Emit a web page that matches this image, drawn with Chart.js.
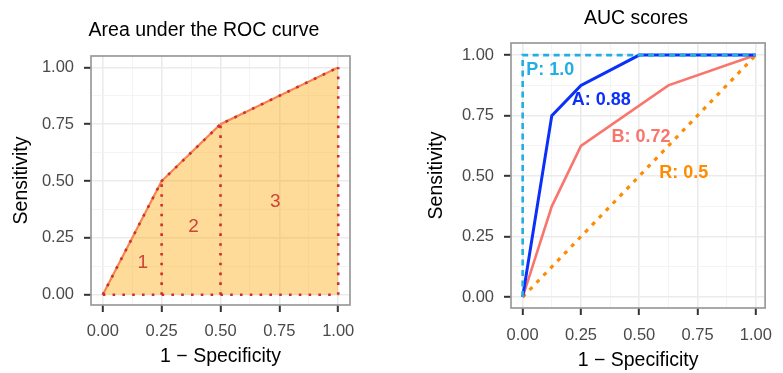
<!DOCTYPE html>
<html>
<head>
<meta charset="utf-8">
<script src="https://cdn.jsdelivr.net/npm/chart.js@4/dist/chart.umd.min.js"></script>
<style>
  html, body { margin: 0; padding: 0; background: #ffffff; }
  #wrap { position: relative; width: 783px; height: 373px; overflow: hidden; }
  canvas { position: absolute; top: 0; }
  #c1 { left: 0px; }
  #c2 { left: 410px; }
</style>
</head>
<body>
<div id="wrap">
  <canvas id="c1" width="400" height="373"></canvas>
  <canvas id="c2" width="373" height="373"></canvas>
</div>
<script>
// ---------- data (left panel) ----------
const leftTitle = 'Area under the ROC curve';
const rocFpr = [0, 0.25, 0.5, 1];
const rocTpr = [0, 0.5, 0.75, 1];
const regionNames = ['1', '2', '3'];
const regionLabelX = [0.17, 0.386, 0.733];
const regionLabelY = [0.14, 0.30, 0.41];

// ---------- data (right panel) ----------
const rightTitle = 'AUC scores';
const perfFpr = [0, 0, 1];
const perfTpr = [0, 1, 1];
const aFpr = [0, 0.125, 0.25, 0.5, 1];
const aTpr = [0, 0.75, 0.875, 1, 1];
const bFpr = [0, 0.125, 0.25, 0.625, 1];
const bTpr = [0, 0.375, 0.625, 0.875, 1];
const rFpr = [0, 1];
const rTpr = [0, 1];
const curveNames = ['P: 1.0', 'A: 0.88', 'B: 0.72', 'R: 0.5'];
const curveLabelX = [0.118, 0.337, 0.508, 0.691];
const curveLabelY = [0.938, 0.814, 0.661, 0.512];

// ---------- axis ----------
const tickValues = [0, 0.125, 0.25, 0.375, 0.5, 0.625, 0.75, 0.875, 1];
const xTitle = '1 \u2212 Specificity';
const yTitle = 'Sensitivity';

const FONT = "'Liberation Sans', Arial, Helvetica, sans-serif";
const pts = (xs, ys) => xs.map((x, i) => ({x: x, y: ys[i]}));
const isMajor = v => Math.abs(v * 4 - Math.round(v * 4)) < 1e-6;

function makeScale(horizontal, min, max, fitSize, titlePad, tickPad) {
  return {
    type: 'linear',
    min: min, max: max,
    afterBuildTicks: s => { s.ticks = tickValues.map(v => ({value: v})); },
    afterFit: s => { if (horizontal) s.height = fitSize; else s.width = fitSize; },
    border: {display: false},
    grid: {
      color: c => (c.tick && isMajor(c.tick.value)) ? '#EBEBEB' : '#F3F3F3',
      lineWidth: c => (c.tick && isMajor(c.tick.value)) ? 1.6 : 0.9,
      tickColor: c => (c.tick && isMajor(c.tick.value)) ? '#333333' : 'rgba(0,0,0,0)',
      tickLength: 7,
      tickWidth: 2,
      drawTicks: true
    },
    ticks: {
      autoSkip: false,
      maxRotation: 0,
      padding: tickPad,
      color: '#4A4A4A',
      font: {family: FONT, size: 16.5},
      callback: v => isMajor(v) ? v.toFixed(2) : ''
    },
    title: {
      display: true,
      text: horizontal ? xTitle : yTitle,
      color: '#000000',
      font: {family: FONT, size: 19.5},
      padding: titlePad
    }
  };
}

const annotPlugin = {
  id: 'annot',
  afterDatasetsDraw(chart, args, opts) {
    const ctx = chart.ctx, xs = chart.scales.x, ys = chart.scales.y, a = chart.chartArea;
    ctx.save();
    (opts.labels || []).forEach(l => {
      ctx.font = l.font;
      ctx.fillStyle = l.color;
      ctx.textAlign = 'center';
      ctx.textBaseline = 'middle';
      ctx.fillText(l.text, xs.getPixelForValue(l.x), ys.getPixelForValue(l.y));
    });
    ctx.strokeStyle = '#9A9A9A';
    ctx.lineWidth = 1.7;
    ctx.strokeRect(a.left, a.top, a.right - a.left, a.bottom - a.top);
    if (opts.title) {
      ctx.font = '19.5px ' + FONT;
      ctx.fillStyle = '#000000';
      ctx.textAlign = 'center';
      ctx.textBaseline = 'middle';
      ctx.fillText(opts.title.text, opts.title.x, opts.title.y);
    }
    ctx.restore();
  }
};

Chart.defaults.font.family = FONT;

// ---------- left chart ----------
const lineRed = '#CF2E2E';
const dividerSets = rocFpr.slice(1).map((x, i) => ({
  data: [{x: x, y: 0}, {x: x, y: rocTpr[i + 1]}],
  borderColor: lineRed, borderWidth: 2.6, borderDash: [2.6, 7.2],
  pointRadius: 0, fill: false, order: 1
}));

new Chart(document.getElementById('c1'), {
  type: 'line',
  data: {
    datasets: [
      {
        data: pts(rocFpr, rocTpr),
        borderColor: '#F6844E', borderWidth: 2.2,
        backgroundColor: 'rgba(255,165,0,0.40)',
        fill: 'origin', pointRadius: 0, order: 3
      },
      {
        data: pts(rocFpr, rocTpr),
        borderColor: lineRed, borderWidth: 2.6, borderDash: [2.6, 7.2],
        pointRadius: 0, fill: false, order: 1
      },
      {
        data: [{x: rocFpr[0], y: 0}, {x: rocFpr[rocFpr.length - 1], y: 0}],
        borderColor: lineRed, borderWidth: 2.6, borderDash: [2.6, 7.2],
        pointRadius: 0, fill: false, order: 1
      },
      ...dividerSets
    ]
  },
  options: {
    responsive: false, animation: false,
    layout: {padding: {top: 56, right: 50, left: 0, bottom: 0}},
    plugins: {
      legend: {display: false}, tooltip: {enabled: false},
      annot: {
        title: {text: leftTitle, x: 204, y: 31},
        labels: regionNames.map((t, i) => ({text: t, x: regionLabelX[i], y: regionLabelY[i],
          color: '#D0433A', font: '19px ' + FONT}))
      }
    },
    scales: {
      x: makeScale(true, -0.05, 1.05, 68, {top: 0, bottom: 5}, 10),
      y: makeScale(false, -0.045, 1.05, 91, {top: 10, bottom: 0}, 10)
    }
  },
  plugins: [annotPlugin]
});

// ---------- right chart ----------
const curveColors = ['#22ADE4', '#0A30FA', '#F8766D', '#FF8C00'];
new Chart(document.getElementById('c2'), {
  type: 'line',
  data: {
    datasets: [
      {data: pts(perfFpr, perfTpr), borderColor: curveColors[0], borderWidth: 2.6,
       borderDash: [6, 4.5], pointRadius: 0, fill: false, order: 0},
      {data: pts(aFpr, aTpr), borderColor: curveColors[1], borderWidth: 3,
       pointRadius: 0, fill: false, order: 1},
      {data: pts(bFpr, bTpr), borderColor: curveColors[2], borderWidth: 2.6,
       pointRadius: 0, fill: false, order: 2},
      {data: pts(rFpr, rTpr), borderColor: curveColors[3], borderWidth: 3.2,
       borderDash: [4, 6], pointRadius: 0, fill: false, order: 3}
    ]
  },
  options: {
    responsive: false, animation: false,
    layout: {padding: {top: 43, right: 4, left: 0, bottom: 0}},
    plugins: {
      legend: {display: false}, tooltip: {enabled: false},
      annot: {
        title: {text: rightTitle, x: 226, y: 19},
        labels: curveNames.map((t, i) => ({text: t, x: curveLabelX[i], y: curveLabelY[i],
          color: curveColors[i], font: 'bold 18px ' + FONT}))
      }
    },
    scales: {
      x: makeScale(true, -0.05, 1.04, 65, {top: 0, bottom: 1}, 11),
      y: makeScale(false, -0.045, 1.05, 101, {top: 15, bottom: 0}, 10)
    }
  },
  plugins: [annotPlugin]
});
</script>
</body>
</html>
